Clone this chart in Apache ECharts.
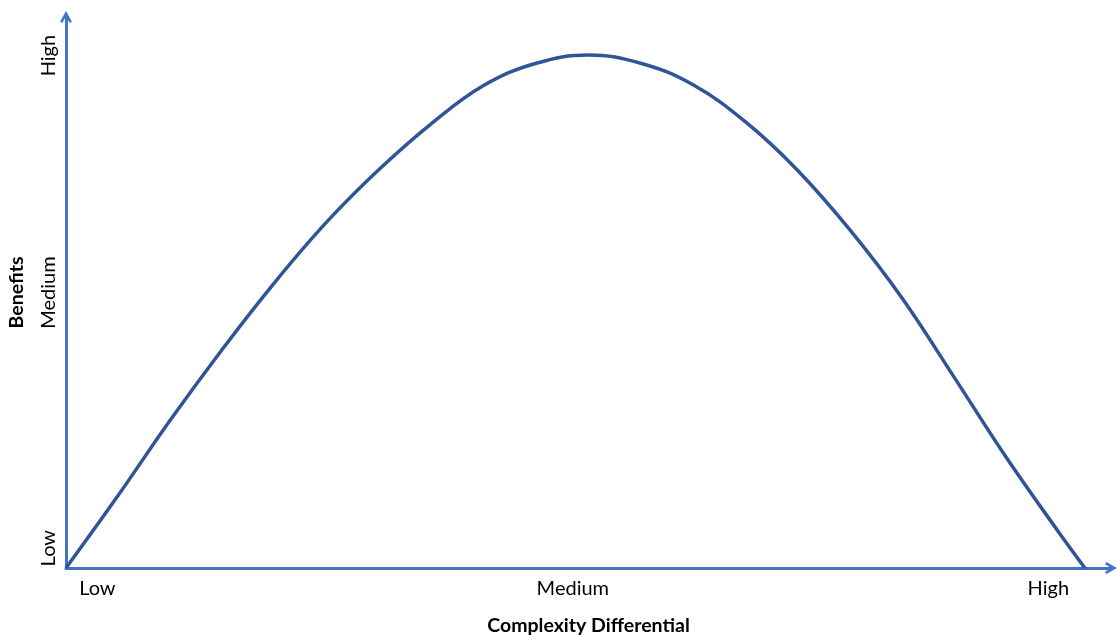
<!DOCTYPE html>
<html>
<head>
<meta charset="utf-8">
<script src="https://cdn.jsdelivr.net/npm/echarts@6/dist/echarts.min.js"></script>
<style>
  html, body { margin: 0; padding: 0; background: #fff; }
  #chart { width: 1118px; height: 635px; }
</style>
</head>
<body>
<div id="chart"></div>
<script>
(() => {

	// curve, both axes on a 0..100 scale
	const complexity = [0, 5, 10, 15, 20, 25, 30, 35, 40, 45, 50, 55, 60, 65, 70, 75, 80, 85, 90, 95, 97.5];
	const benefits   = [0, 13.2, 26.9, 39.8, 51.9, 62.9, 72.4, 80.7, 87.6, 91.6, 93.1, 91.6, 87.7, 81.0, 72.2, 61.4, 49.0, 34.6, 20.0, 6.5, 0];

	// where the Low / Medium / High labels sit on each axis
	const xTickValues = [3, 48.5, 94];
	const yTickValues = [3.6, 50, 93];
	const tickNames = ["Low", "Medium", "High"];

	const axisColor = "#4472C4";
	const curveColor = "#2F5597";
	const font = "Lato";
	// open arrow head, pointing up before the axis rotates it
	const chevron = "path://M5,0 L10,9 L8.2,10.2 L5,4.6 L1.8,10.2 L0,9 Z";

	const points = complexity.map((c, i) => [c, benefits[i]]);

	const labelFor = (vals) => (v) => {
		const idx = vals.findIndex(t => Math.abs(t - v) < 0.01);
		return idx >= 0 ? tickNames[idx] : "";
	};

	const chart = echarts.init(document.getElementById("chart"));

	chart.setOption({
		animation: false,
		grid: { left: 66, right: 7, top: 17, bottom: 67, outerBoundsMode: "none", containLabel: false },
		xAxis: {
			type: "value",
			min: 0,
			max: 100,
			name: "Complexity Differential",
			nameLocation: "middle",
			nameGap: 48,
			nameTextStyle: { fontFamily: font, fontWeight: "bold", fontSize: 19.5, color: "#000" },
			splitLine: { show: false },
			axisTick: { show: false },
			axisLine: {
				lineStyle: { color: axisColor, width: 3 },
				symbol: ["none", chevron],
				symbolSize: [12, 12],
				symbolOffset: [0, 0]
			},
			axisLabel: {
				customValues: xTickValues,
				formatter: labelFor(xTickValues),
				fontFamily: font,
				fontSize: 20,
				color: "#000",
				margin: 11
			}
		},
		yAxis: {
			type: "value",
			min: 0,
			max: 100,
			name: "Benefits",
			nameLocation: "middle",
			nameGap: 39,
			nameRotate: 90,
			nameTextStyle: { fontFamily: font, fontWeight: "bold", fontSize: 19.5, color: "#000" },
			splitLine: { show: false },
			axisTick: { show: false },
			axisLine: {
				lineStyle: { color: axisColor, width: 3 },
				symbol: ["none", chevron],
				symbolSize: [12, 12],
				symbolOffset: [0, 0]
			},
			axisLabel: {
				customValues: yTickValues,
				formatter: labelFor(yTickValues),
				rotate: 90,
				fontFamily: font,
				fontSize: 20,
				color: "#000",
				margin: 7
			}
		},
		series: [
			{
				type: "line",
				data: points,
				smooth: 0.4,
				showSymbol: false,
				lineStyle: { color: curveColor, width: 3.5 }
			}
		]
	});

})();
</script>
</body>
</html>
